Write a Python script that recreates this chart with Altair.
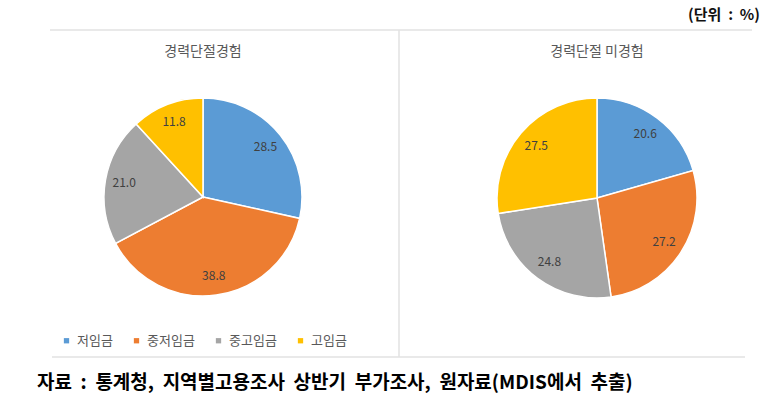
import altair as alt
import pandas as pd

NB = "\u00a0"
categories = ["저임금", "중저임금", "중고임금", "고임금"]
left_values = [28.5, 38.8, 21.0, 11.8]
right_values = [20.6, 27.2, 24.8, 27.5]
panel_titles = ["경력단절경험", "경력단절 미경험"]
unit_label = "(단위" + NB * 2 + ":" + NB * 2 + "%)"
source_label = ("자료" + NB * 2 + ":" + NB * 2 + "통계청," + NB * 2 + "지역별고용조사" + NB * 2 + "상반기"
                + NB * 2 + "부가조사," + NB * 2 + "원자료(MDIS에서" + NB * 2 + "추출)")
colors = ["#5B9BD5", "#ED7D31", "#A5A5A5", "#FFC000"]

FONT = "Noto Sans CJK KR"

left_df = pd.DataFrame({"category": categories, "value": left_values, "order": range(4)})
right_df = pd.DataFrame({"category": categories, "value": right_values, "order": range(4)})

def legend(x):
    return alt.Legend(orient="none", legendX=x, legendY=334, direction="horizontal",
                      title=None, symbolType="square", symbolSize=28,
                      symbolStrokeWidth=0, labelFontSize=13, labelColor="#595959",
                      labelFont=FONT, columnPadding=17, labelOffset=4)

scale = alt.Scale(domain=categories, range=colors)

L = dict(x=203, y=197)
R = dict(x=597, y=198)

left_pie = alt.Chart(left_df).mark_arc(stroke="white", strokeWidth=1.5).encode(
    theta=alt.Theta("value:Q", stack=True),
    color=alt.Color("category:N", scale=scale, legend=legend(60), sort=categories),
    order=alt.Order("order:Q"),
    x=alt.value(L["x"]), y=alt.value(L["y"]), radius=alt.value(99),
)
left_lbl = alt.Chart(left_df).mark_text(radius=80, fontSize=12, font=FONT, color="#404040").encode(
    theta=alt.Theta("value:Q", stack=True),
    order=alt.Order("order:Q"),
    text=alt.Text("value:Q", format=".1f"),
    x=alt.value(L["x"]), y=alt.value(L["y"]),
)
right_pie = alt.Chart(right_df).mark_arc(stroke="white", strokeWidth=1.5).encode(
    theta=alt.Theta("value:Q", stack=True),
    fill=alt.Fill("category:N", scale=scale, legend=legend(456), sort=categories),
    order=alt.Order("order:Q"),
    x=alt.value(R["x"]), y=alt.value(R["y"]), radius=alt.value(100),
)
right_lbl = alt.Chart(right_df).mark_text(radius=80, fontSize=12, font=FONT, color="#404040").encode(
    theta=alt.Theta("value:Q", stack=True),
    order=alt.Order("order:Q"),
    text=alt.Text("value:Q", format=".1f"),
    x=alt.value(R["x"]), y=alt.value(R["y"]),
)

def label(txt, x, y, **kw):
    return alt.Chart(pd.DataFrame({"t": [txt]})).mark_text(font=FONT, **kw).encode(
        text="t:N", x=alt.value(x), y=alt.value(y))

title_l = label(panel_titles[0], 203, 52, fontSize=14, color="#595959")
title_r = label(panel_titles[1], 597, 52, fontSize=14, color="#595959")
unit = label(unit_label, 760, 15, fontSize=15, color="#111111", align="right", fontWeight="bold")
source = label(source_label, 37, 383, fontSize=19, color="#000000", align="left", fontWeight="bold")

frame_df = pd.DataFrame({"k": [0]})
line_style = dict(color="#e2e2e2", strokeWidth=1.5)
top_line = alt.Chart(frame_df).mark_rule(**line_style).encode(
    x=alt.value(50), x2=alt.value(752), y=alt.value(30))
bottom_line = alt.Chart(frame_df).mark_rule(**line_style).encode(
    x=alt.value(52), x2=alt.value(745), y=alt.value(357))
divider = alt.Chart(frame_df).mark_rule(**line_style).encode(
    x=alt.value(399), y=alt.value(30), y2=alt.value(357))

chart = alt.layer(
    top_line, bottom_line, divider,
    left_pie, left_lbl, right_pie, right_lbl,
    title_l, title_r, unit, source,
).properties(
    width=782, height=402, autosize=alt.AutoSizeParams(type="none"), padding=0,
    background="white",
).configure_view(stroke=None)

chart.save("out.html", embed_options={"renderer": "svg", "actions": False})
